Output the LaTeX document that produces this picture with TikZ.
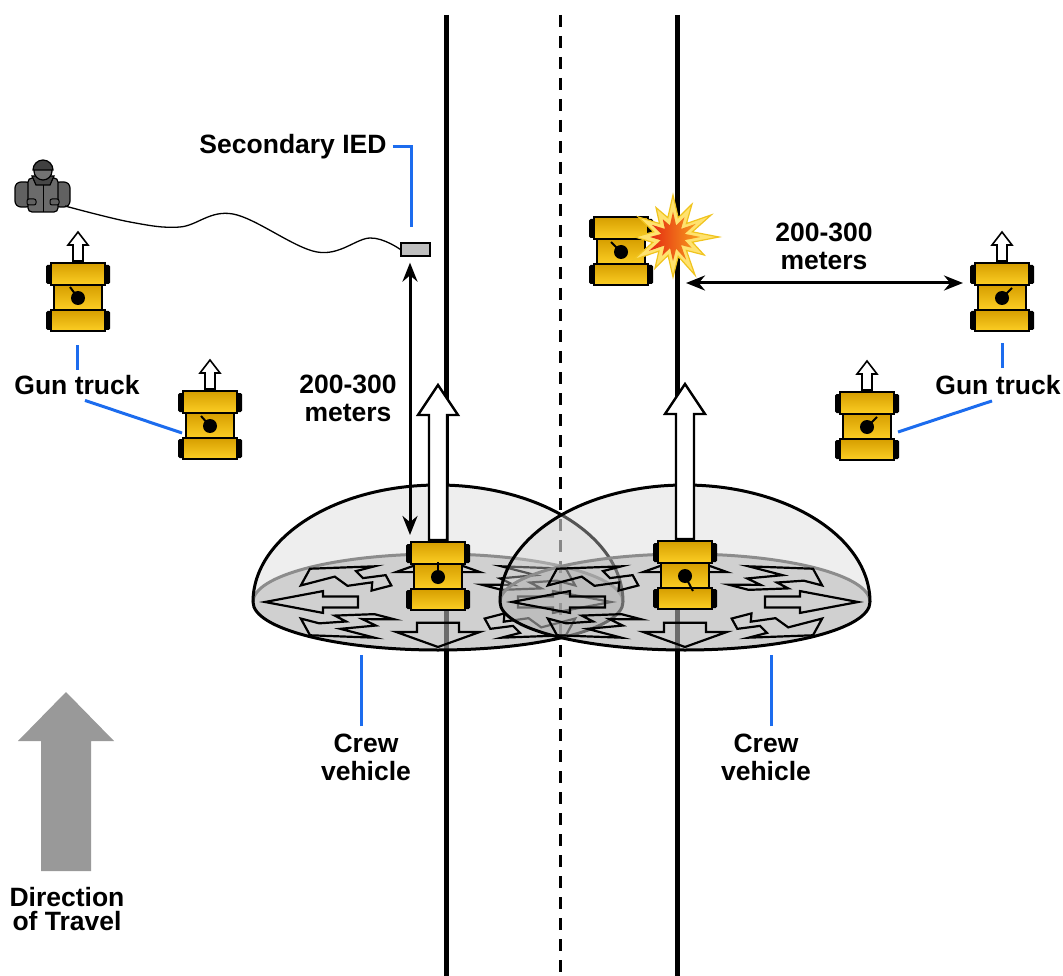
\documentclass[tikz,border=0pt]{standalone}
\usepackage{fontspec}
\setmainfont{Liberation Sans}
\usetikzlibrary{arrows.meta,calc,positioning}

\definecolor{leaderblue}{RGB}{28,108,238}
\definecolor{truckdark}{RGB}{214,158,0}
\definecolor{trucklight}{RGB}{252,206,36}
\definecolor{domefill}{gray}{0.83}
\definecolor{basefill}{gray}{0.6}
\definecolor{travel}{gray}{0.6}
\definecolor{boomyellow}{RGB}{255,226,110}
\definecolor{boomedge}{RGB}{240,196,30}
\definecolor{boomred}{RGB}{228,40,18}
\definecolor{boomorange}{RGB}{248,162,30}

\tikzset{
  lbl/.style={font=\bfseries\fontsize{26.5}{28}\selectfont, align=center, inner sep=0pt},
  leaderline/.style={draw=leaderblue, line width=3pt},
  road/.style={line width=5pt},
  centreline/.style={line width=3pt, dash pattern=on 12pt off 9pt},
  plate/.style={draw, line width=1.4pt, top color=truckdark, bottom color=trucklight},
  heading/.style={draw, fill=white, line width=1.6pt, line join=miter},
  moveby/.style={draw, fill=white, line width=2.4pt, line join=miter},
  burst/.style={draw, line width=2.2pt, line join=miter},
  iedbox/.style={draw, fill=black!25, line width=1.2pt, minimum width=29pt, minimum height=13pt, inner sep=0pt},
  span/.style={line width=3pt, {Stealth[length=19pt,width=15pt]}-{Stealth[length=19pt,width=15pt]}},
}

% vehicle seen from above: name, centre, turret direction
\newcommand{\truck}[3]{%
  \begin{scope}[shift={(#2)}]
    \coordinate (#1) at (0,0);
    \fill[rounded corners=1.5pt] (-32,-32) rectangle (-24,-13) (24,-32) rectangle (32,-13)
                                 (-32,14) rectangle (-24,33) (24,14) rectangle (32,33);
    \draw[plate] (-24,-12) rectangle (24,13);
    \draw[plate] (-27,-34) rectangle (27,-12);
    \draw[plate] (-27,13) rectangle (27,34);
    \fill (0,1) circle[radius=7pt];
    \draw[line width=2pt] (0,1) -- ++(#3);
  \end{scope}}

% blast dome with the burst arrows on its base: name, centre
\newcommand{\dome}[2]{%
  \begin{scope}[shift={(#2)}]
    \coordinate (#1) at (0,0);
    \fill[domefill, fill opacity=0.4] (-185,0) arc[start angle=180, end angle=0, x radius=185pt, y radius=117pt]
      arc[start angle=0, end angle=-180, x radius=185pt, y radius=48pt] -- cycle;
    \fill[basefill, fill opacity=0.34] (0,0) ellipse[x radius=185pt, y radius=48pt];
    \draw[line width=3pt, black!45] (-185,0) arc[start angle=180, end angle=0, x radius=185pt, y radius=48pt];
    \foreach \a in {0,90,180,270}
      \draw[burst, yscale=0.26, rotate=\a] (80,-21) -- (115,-21) -- (115,-42) -- (173,0)
        -- (115,42) -- (115,21) -- (80,21) -- cycle;
    \foreach \a in {45,135,225,315}
      \draw[burst, yscale=0.26, rotate=\a] (78,12) -- (110,36) -- (118,12) -- (142,26) -- (142,52)
        -- (181,0) -- (142,-52) -- (142,-4) -- (108,-20) -- (100,7) -- (78,-16) -- cycle;
    \draw[line width=3pt] (185,0) arc[start angle=0, end angle=-180, x radius=185pt, y radius=48pt];
    \draw[line width=3pt] (-185,0) arc[start angle=180, end angle=0, x radius=185pt, y radius=117pt];
  \end{scope}}

\begin{document}
\begin{tikzpicture}[x=1pt, y=-1pt]
  \useasboundingbox (0,0) rectangle (1063,976);

  % road
  \draw[road] (446,15) -- (446,976);
  \draw[road] (677,15) -- (677,976);
  \draw[centreline] (560,15) -- (560,976);

  % trigger man
  \coordinate (person) at (43,190);
  \begin{scope}[shift={(person)}]
    \draw[fill=black!62, line width=1.2pt, rounded corners=6pt] (-28,-8) rectangle (-11,17);
    \draw[fill=black!62, line width=1.2pt, rounded corners=6pt] (11,-8) rectangle (27,17);
    \draw[fill=black!58, line width=1.2pt, rounded corners=4pt] (-15,-12) rectangle (15,22);
    \draw[fill=black!72, line width=1.2pt] (-11,-14) -- (11,-14) -- (7,-5) -- (-7,-5) -- cycle;
    \draw[line width=1pt] (0,-5) -- (0,22);
    \draw[fill=black!62, line width=1pt, rounded corners=2pt] (-16,9) rectangle (-7,15);
    \draw[fill=black!62, line width=1pt, rounded corners=2pt] (7,9) rectangle (16,15);
    \draw[fill=black!55, line width=1.2pt] (0,-19) circle[radius=9pt];
    \draw[fill=black!75, line width=1.2pt] (-10,-20) arc[start angle=180, end angle=0, radius=10pt] -- cycle;
  \end{scope}

  % command wire to the secondary IED
  \node[iedbox] (ied) at (415.5,249.5) {};
  \draw[line width=1.3pt] plot[smooth, tension=0.6] coordinates
    {(65,206) (130,222) (180,227) (233,214) (317,252) (370,238) (ied.west)};
  \node[lbl] (iedlbl) at (293,147) {Secondary IED};
  \draw[leaderline] ([xshift=6pt]iedlbl.east) -| ([xshift=-4.5pt,yshift=15pt]ied.north);

  % direction of travel
  \fill[travel] (41,871) -- (41,741) -- (18,741) -- (66,692) -- (114,741) -- (91,741) -- (91,871) -- cycle;
  \node[lbl] (dir) at (67,909) {Direction\\[-4pt]of Travel};

  % domes
  \dome{domeL}{438,602}
  \dome{domeR}{685,602}

  % crew vehicles moving up
  \coordinate (crewL) at (438,576);
  \coordinate (crewR) at (685,575);
  \foreach \t in {crewL,crewR}
    \draw[moveby, shift={(\t)}] (-9,-36) -- (-9,-161) -- (-20,-161) -- (0,-191) -- (20,-161)
      -- (9,-161) -- (9,-36) -- cycle;

  % vehicles
  \truck{crewL}{438,576}{0,-15}
  \truck{crewR}{685,575}{8,15}
  \truck{hit}{621,251}{-10,-10}
  \truck{gtA}{78,297}{-8,-11}
  \truck{gtB}{210,425}{-9,-10}
  \truck{gtC}{1002,297}{10,-10}
  \truck{gtD}{867,426}{10,-10}
  \foreach \t in {gtA,gtB,gtC,gtD}
    \draw[heading, shift={(\t)}] (-5,-36) -- (-5,-52) -- (-10,-52) -- (0,-65) -- (10,-52)
      -- (5,-52) -- (5,-36) -- cycle;

  % blast on the lead vehicle
  \begin{scope}[shift={(673,237)}]
    \draw[fill=boomyellow, draw=boomedge, line width=1.2pt]
      (0:46) -- (15:20) -- (30:36) -- (45:19) -- (60:44) -- (75:20) -- (90:40) -- (105:19)
      -- (120:36) -- (135:20) -- (150:46) -- (165:21) -- (180:38) -- (195:20) -- (210:40)
      -- (225:19) -- (240:34) -- (255:20) -- (270:42) -- (285:20) -- (300:38) -- (315:19)
      -- (330:44) -- (345:20) -- cycle;
    \shade[left color=boomred, right color=boomorange, scale=0.6]
      (0:46) -- (15:20) -- (30:36) -- (45:19) -- (60:44) -- (75:20) -- (90:40) -- (105:19)
      -- (120:36) -- (135:20) -- (150:46) -- (165:21) -- (180:38) -- (195:20) -- (210:40)
      -- (225:19) -- (240:34) -- (255:20) -- (270:42) -- (285:20) -- (300:38) -- (315:19)
      -- (330:44) -- (345:20) -- cycle;
  \end{scope}

  % stand-off distances
  \coordinate (blast) at (686,283);
  \draw[span] ([xshift=-5.5pt,yshift=-6pt]ied.south) -- ([xshift=-28pt,yshift=41pt]crewL);
  \draw[span] (blast) -- ([xshift=-39pt,yshift=14pt]gtC);
  \node[lbl] (gapL) at (348,398) {200-300\\meters};
  \node[lbl] (gapR) at (824,246) {200-300\\meters};

  % labels
  \node[lbl] (gunlblL) at (77,385) {Gun truck};
  \draw[leaderline] ([yshift=5.5pt]gunlblL.north) -- ([xshift=-1pt,yshift=-48pt]gtA);
  \draw[leaderline] ([xshift=8pt,yshift=-5.5pt]gunlblL.south) -- ([xshift=-28pt,yshift=-8pt]gtB);
  \node[lbl] (gunlblR) at (998,385) {Gun truck};
  \draw[leaderline] ([xshift=4pt,yshift=7pt]gunlblR.north) -- ([yshift=-46pt]gtC);
  \draw[leaderline] ([xshift=-6pt,yshift=-6pt]gunlblR.south) -- ([xshift=31pt,yshift=-6pt]gtD);
  \node[lbl] (crewlblL) at (366,757) {Crew\\vehicle};
  \draw[leaderline] ([xshift=-5pt,yshift=7pt]crewlblL.north) -- ([xshift=-77pt,yshift=-53pt]domeL);
  \node[lbl] (crewlblR) at (766,757) {Crew\\vehicle};
  \draw[leaderline] ([xshift=5pt,yshift=7pt]crewlblR.north) -- ([xshift=86pt,yshift=-53pt]domeR);
\end{tikzpicture}
\end{document}
